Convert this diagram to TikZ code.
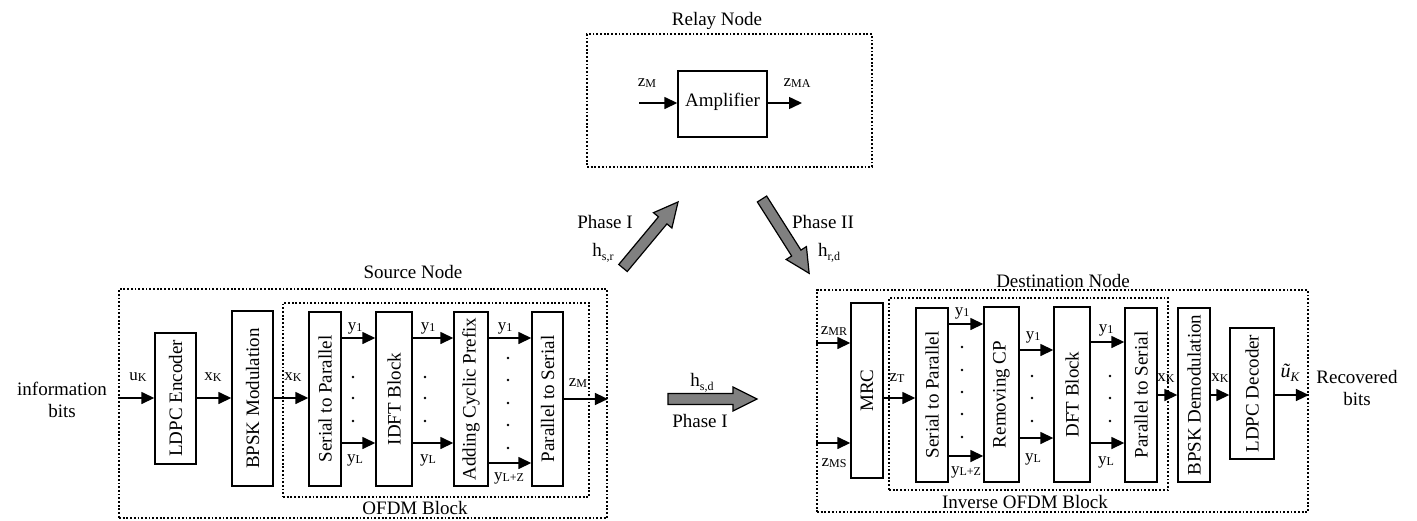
\documentclass[tikz,border=0pt]{standalone}
\usepackage{fontspec}
\setmainfont{Liberation Serif}
\usepackage{graphicx}
\usetikzlibrary{arrows.meta}

% signal name with a small index on (almost) the baseline
\newcommand\sig[2]{#1\raisebox{-1pt}{\fontsize{12}{12}\selectfont #2}}
% channel coefficient with a lowered index
\newcommand\chan[1]{{\fontsize{19}{19}\selectfont h}\raisebox{-4pt}{\fontsize{12}{12}\selectfont #1}}

% processing block given by its corners, with vertical text
\newcommand\blockbox[6]{%
  \node[blk, minimum width={(#4)-(#2)}, minimum height={(#5)-(#3)}]
    (#1) at ({((#2)+(#4))/2},{((#3)+(#5))/2}) {\rotatebox{90}{#6}};}
% dotted grouping frame given by its corners
\newcommand\groupbox[5]{%
  \node[grp, minimum width={(#4)-(#2)}, minimum height={(#5)-(#3)}]
    (#1) at ({((#2)+(#4))/2},{((#3)+(#5))/2}) {};}
% horizontal connector between two blocks at height #3
\newcommand\hconn[3]{%
  \coordinate (lvl) at (0,#3);
  \draw[arr] (#1.east |- lvl) -- (#2.west |- lvl);}
% wide grey transmission arrow: tail x, tail y, angle, length
\newcommand\fatarrow[4]{%
  \begin{scope}[shift={(#1,#2)}, rotate=#3]
    \draw[fat] (0,-5.5) -- ({#4-24},-5.5) -- ({#4-24},-12) -- (#4,0)
      -- ({#4-24},12) -- ({#4-24},5.5) -- (0,5.5) -- cycle;
  \end{scope}}

\begin{document}
\begin{tikzpicture}[x=1pt,y=-1pt,
  blk/.style={draw, line width=1.4pt, inner sep=0pt, font=\fontsize{19}{22}\selectfont},
  grp/.style={draw, line width=1.8pt, dash pattern=on 1.8pt off 1.9pt, inner sep=0pt},
  arr/.style={line width=1.5pt, -{Triangle[length=13pt,width=12pt]}},
  lbl/.style={inner sep=0pt, font=\fontsize{17}{17}\selectfont},
  ttl/.style={inner sep=0pt, font=\fontsize{19}{22}\selectfont, align=center},
  fat/.style={draw, line width=1.2pt, fill=gray, line join=miter},
  dot/.style={fill=black}]
\useasboundingbox (0,0) rectangle (1417,520);

% ---------------- source node ----------------
\groupbox{src}{119}{289}{607}{518}
\groupbox{ofdm}{283}{303}{589}{497}
\node[ttl, anchor=base] (srcT) at (413,278) {Source Node};
\node[ttl, anchor=base] (ofdmT) at (415,514) {OFDM Block};

\blockbox{ldpcE}{155}{333}{196}{464}{LDPC Encoder}
\blockbox{bpskM}{232}{311}{273}{486}{BPSK Modulation}
\blockbox{spA}{309}{312}{341}{486}{Serial to Parallel}
\blockbox{idft}{376}{312}{412}{486}{IDFT Block}
\blockbox{acp}{454}{312}{488}{486}{Adding Cyclic Prefix}
\blockbox{psA}{532}{312}{563}{486}{Parallel to Serial}

\node[ttl] (info) at (62,400) {information\\bits};

\coordinate (lvl) at (0,398);
\draw[arr] (src.west |- lvl) -- (ldpcE.west |- lvl);
\hconn{ldpcE}{bpskM}{398}
\hconn{bpskM}{spA}{398}
\hconn{spA}{idft}{338}
\hconn{spA}{idft}{443}
\hconn{idft}{acp}{338}
\hconn{idft}{acp}{443}
\hconn{acp}{psA}{338}
\hconn{acp}{psA}{463}
\coordinate (lvl) at (0,399);
\draw[arr] (psA.east |- lvl) -- (src.east |- lvl);

\foreach \yy in {377,398,421} {\fill[dot] (353,\yy) circle (1.3); \fill[dot] (425,\yy) circle (1.3);}
\foreach \yy in {358,380,403,425,448} {\fill[dot] (508,\yy) circle (1.3);}

\node[lbl] (lu) at (138,377) {\sig{u}{K}};
\node[lbl] (lx1) at (213,377) {\sig{x}{K}};
\node[lbl] (lx2) at (293,377) {\sig{x}{K}};
\node[lbl] (la1) at (355,328) {\sig{y}{1}};
\node[lbl] (la2) at (355,460) {\sig{y}{L}};
\node[lbl] (lb1) at (428,328) {\sig{y}{1}};
\node[lbl] (lb2) at (428,460) {\sig{y}{L}};
\node[lbl] (lc1) at (505,328) {\sig{y}{1}};
\node[lbl] (lc2) at (509,478) {\sig{y}{L+Z}};
\node[lbl] (lzm) at (578,383) {\sig{z}{M}};

% ---------------- relay node ----------------
\groupbox{rly}{587}{34}{872}{167}
\node[ttl, anchor=base] (rlyT) at (717,25) {Relay Node};
\node[blk, minimum width=89, minimum height=66] (amp) at (722.5,104) {\raisebox{9pt}{Amplifier}};
\coordinate (ampIn) at (639,103);
\coordinate (ampOut) at (802,103);
\draw[arr] (ampIn) -- (amp.west |- ampIn);
\draw[arr] (amp.east |- ampOut) -- (ampOut);
\node[lbl] (lrin) at (647,83) {\sig{z}{M}};
\node[lbl] (lrout) at (797,83) {\sig{z}{MA}};

% ---------------- links between the nodes ----------------
\fatarrow{623}{268}{50.2}{86}
\fatarrow{762}{199}{-57.6}{88}
\fatarrow{668}{399}{0}{89}
\node[ttl] (ph1a) at (605,222) {Phase I};
\node[lbl] (hsr) at (603,253) {\chan{s,r}};
\node[ttl] (ph2) at (823,222) {Phase II};
\node[lbl] (hrd) at (829,253) {\chan{r,d}};
\node[lbl] (hsd) at (702,383) {\chan{s,d}};
\node[ttl] (ph1b) at (700,421) {Phase I};

% ---------------- destination node ----------------
\groupbox{dst}{817}{290}{1308}{512}
\groupbox{iofdm}{889}{298}{1168}{490}
\node[ttl, anchor=base] (dstT) at (1063,287) {Destination Node};
\node[ttl, anchor=base] (iofdmT) at (1025,508) {Inverse OFDM Block};

\blockbox{mrc}{851}{303}{883}{478}{MRC}
\blockbox{spB}{916}{308}{948}{482}{Serial to Parallel}
\blockbox{rcp}{984}{307}{1019}{482}{Removing CP}
\blockbox{dft}{1054}{307}{1090}{482}{DFT Block}
\blockbox{psB}{1125}{308}{1157}{482}{Parallel to Serial}
\blockbox{bpskD}{1178}{308}{1210}{482}{BPSK Demodulation}
\blockbox{ldpcD}{1230}{328}{1274}{459}{LDPC Decoder}

\coordinate (lvl) at (0,343);
\draw[arr] (dst.west |- lvl) -- (mrc.west |- lvl);
\coordinate (lvl) at (0,443);
\draw[arr] (dst.west |- lvl) -- (mrc.west |- lvl);
\hconn{mrc}{spB}{398}
\hconn{spB}{rcp}{324}
\hconn{spB}{rcp}{456}
\hconn{rcp}{dft}{350}
\hconn{rcp}{dft}{438}
\hconn{dft}{psB}{342}
\hconn{dft}{psB}{443}
\hconn{psB}{bpskD}{395}
\hconn{bpskD}{ldpcD}{395}
\coordinate (lvl) at (0,395);
\draw[arr] (ldpcD.east |- lvl) -- (dst.east |- lvl);

\foreach \yy in {347,370,392,414,437} {\fill[dot] (962,\yy) circle (1.3);}
\foreach \yy in {376,398,421} {\fill[dot] (1032,\yy) circle (1.3); \fill[dot] (1110,\yy) circle (1.3);}

\node[lbl] (lmr) at (834,331) {\sig{z}{MR}};
\node[lbl] (lms) at (834,463) {\sig{z}{MS}};
\node[lbl] (lzt) at (897,378) {\sig{z}{T}};
\node[lbl] (ld1) at (962,313) {\sig{y}{1}};
\node[lbl] (ld2) at (966,472) {\sig{y}{L+Z}};
\node[lbl] (le1) at (1033,337) {\sig{y}{1}};
\node[lbl] (le2) at (1033,459) {\sig{y}{L}};
\node[lbl] (lf1) at (1106,330) {\sig{y}{1}};
\node[lbl] (lf2) at (1106,462) {\sig{y}{L}};
\node[lbl] (lg1) at (1166,378) {\sig{x}{K}};
\node[lbl] (lg2) at (1220,378) {\sig{x}{K}};
\node[lbl] (lut) at (1290,373) {\fontsize{20}{20}\selectfont\itshape \~u\raisebox{-4pt}{\fontsize{13}{13}\selectfont K}};
\node[ttl] (recv) at (1357,388) {Recovered\\bits};

\end{tikzpicture}
\end{document}
